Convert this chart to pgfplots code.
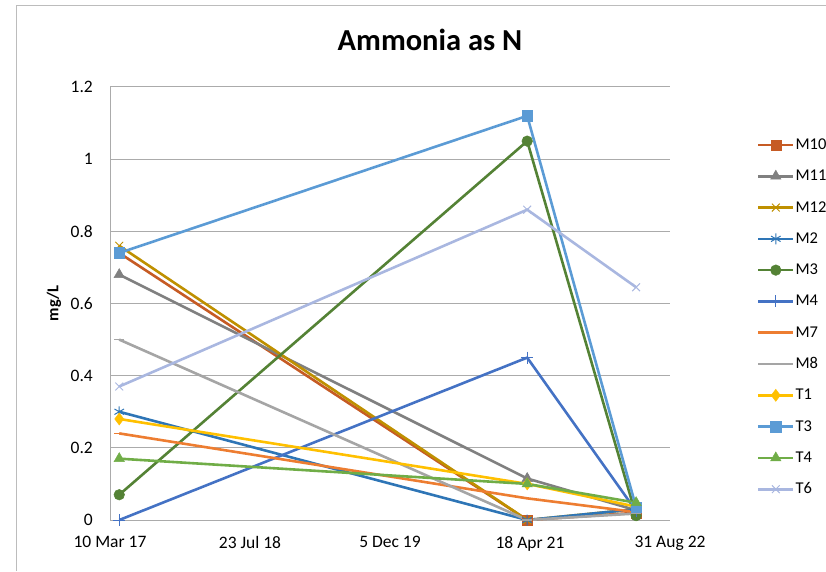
\documentclass[border=0pt]{standalone}
\usepackage{fontspec}
\setmainfont{Carlito}
\usepackage{pgfplots}
\pgfplotsset{compat=1.18}
\definecolor{cM10}{HTML}{C65B24}
\definecolor{cM11}{HTML}{808080}
\definecolor{cM12}{HTML}{BF9000}
\definecolor{cM2}{HTML}{2E75B6}
\definecolor{cM3}{HTML}{548235}
\definecolor{cM4}{HTML}{4472C4}
\definecolor{cM7}{HTML}{ED7D31}
\definecolor{cM8}{HTML}{A5A5A5}
\definecolor{cT1}{HTML}{FFC000}
\definecolor{cT3}{HTML}{5B9BD5}
\definecolor{cT4}{HTML}{70AD47}
\definecolor{cT6}{HTML}{A9B7E0}
\definecolor{gridc}{HTML}{ABABAB}
\begin{document}
\begin{tikzpicture}
\path[use as bounding box] (0pt,0pt) rectangle (826pt,571pt);
\draw[color=gridc!80, line width=1pt] (16pt,0pt) -- (16pt,565pt) -- (826pt,565pt);
\node[font=\fontsize{30.5}{34}\selectfont\bfseries] at (430pt,531pt) {Ammonia as N};
\begin{axis}[
  at={(110pt,51pt)}, anchor=south west,
  scale only axis, width=560pt, height=433pt,
  xmin=0, xmax=2000, ymin=0, ymax=1.2,
  xtick={0,500,1000,1500,2000},
  xticklabels={10 Mar 17, 23 Jul 18, 5 Dec 19, 18 Apr 21, 31 Aug 22},
  ytick={0,0.2,0.4,0.6,0.8,1,1.2},
  yticklabels={0,0.2,0.4,0.6,0.8,1,1.2},
  axis x line*=bottom, axis y line*=left,
  axis line style={draw=gridc, line width=1pt, -},
  major tick length=0pt,
  ymajorgrids, grid style={draw=gridc, line width=1pt},
  tick label style={font=\fontsize{17.5}{19}\selectfont, inner sep=0pt},
  xticklabel style={anchor=north, yshift=-16pt},
  yticklabel style={anchor=east, xshift=-17pt},
  ylabel={mg/L},
  ylabel style={font=\fontsize{16.5}{18}\selectfont\bfseries, at={(axis description cs:-0.1,0.5)}, anchor=center},
  clip=false,
  every axis plot/.append style={line width=2.6pt},
  legend style={at={(axis description cs:1.155,0.884)}, anchor=north west, draw=none, fill=none,
    font=\fontsize{16.5}{18}\selectfont, inner sep=0pt, row sep=16.3pt,
    nodes={inner sep=0pt, text height=12pt, text depth=3pt},
    column sep=1pt},
  legend cell align=left,
  legend image code/.code={\draw[mark repeat=2,mark phase=2] plot coordinates {(0pt,0pt) (17.5pt,0pt) (35pt,0pt)};},
]
\addplot[color=cM10, mark=square*, mark size=5pt, mark options={solid, line width=0.5pt}] coordinates {(33,0.74) (1490,0) (1879,0.02)};
\addlegendentry{M10}
\addplot[color=cM11, mark=triangle*, mark size=6pt, mark options={solid, line width=0.5pt}] coordinates {(33,0.68) (1490,0.115) (1879,0.027)};
\addlegendentry{M11}
\addplot[color=cM12, mark=x, mark size=5.5pt, mark options={solid, line width=1pt}] coordinates {(33,0.76) (1490,0) (1879,0.03)};
\addlegendentry{M12}
\addplot[color=cM2, mark=asterisk, mark size=5.5pt, mark options={solid, line width=1pt}] coordinates {(33,0.30) (1490,0) (1879,0.03)};
\addlegendentry{M2}
\addplot[color=cM3, mark=*, mark size=5.3pt, mark options={solid, line width=0.5pt}] coordinates {(33,0.07) (1490,1.05) (1879,0.012)};
\addlegendentry{M3}
\addplot[color=cM4, mark=+, mark size=6pt, mark options={solid, line width=1pt}] coordinates {(33,0) (1490,0.45) (1879,0.025)};
\addlegendentry{M4}
\addplot[color=cM7, mark=-, mark size=5pt, mark options={solid, line width=1.5pt}] coordinates {(33,0.24) (1490,0.06) (1879,0.022)};
\addlegendentry{M7}
\addplot[color=cM8, mark=-, mark size=5pt, mark options={solid, line width=1.5pt}] coordinates {(33,0.50) (1490,0) (1879,0.018)};
\addlegendentry{M8}
\addplot[color=cT1, mark=diamond*, mark size=6pt, mark options={solid, line width=0.5pt}] coordinates {(33,0.28) (1490,0.10) (1879,0.037)};
\addlegendentry{T1}
\addplot[color=cT3, mark=square*, mark size=5.3pt, mark options={solid, line width=0.5pt}] coordinates {(33,0.74) (1490,1.12) (1879,0.035)};
\addlegendentry{T3}
\addplot[color=cT4, mark=triangle*, mark size=6pt, mark options={solid, line width=0.5pt}] coordinates {(33,0.17) (1490,0.10) (1879,0.048)};
\addlegendentry{T4}
\addplot[color=cT6, mark=x, mark size=5.5pt, mark options={solid, line width=1pt}] coordinates {(33,0.37) (1490,0.86) (1879,0.645)};
\addlegendentry{T6}
\end{axis}
\end{tikzpicture}
\end{document}
